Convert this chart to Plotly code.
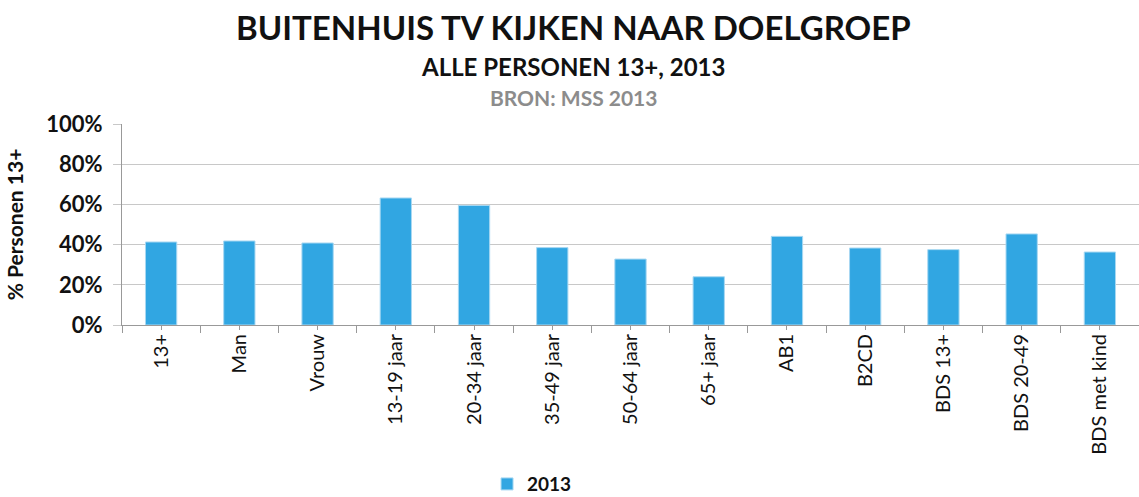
import plotly.graph_objects as go

CATEGORIEEN = ["13+", "Man", "Vrouw", "13-19 jaar", "20-34 jaar", "35-49 jaar", "50-64 jaar",
               "65+ jaar", "AB1", "B2CD", "BDS 13+", "BDS 20-49", "BDS met kind"]
WAARDEN_2013 = [0.413, 0.418, 0.408, 0.632, 0.595, 0.385, 0.328, 0.240, 0.441, 0.383, 0.375, 0.453, 0.363]
Y_TICKS = [0, 0.2, 0.4, 0.6, 0.8, 1.0]

COR_BAR = "#31A6E2"
FONT = "Lato, sans-serif"

fig = go.Figure()
fig.add_trace(go.Bar(
    name="2013", x=CATEGORIEEN, y=WAARDEN_2013,
    marker=dict(color=COR_BAR, line=dict(color="#a8d8f2", width=1)),
))
# lege trace voor de korte streepjes onder de labels
fig.add_trace(go.Scatter(x=CATEGORIEEN, y=[None] * len(CATEGORIEEN), xaxis="x2", mode="lines",
                         showlegend=False, hoverinfo="skip"))

x_range = [-0.5, len(CATEGORIEEN) - 0.5]

fig.update_layout(
    width=1139, height=497,
    paper_bgcolor="white", plot_bgcolor="white",
    margin=dict(t=124, b=172, l=122, r=0, autoexpand=False),
    bargap=0.6,
    font=dict(family=FONT, size=18, color="#111"),
    showlegend=True,
    legend=dict(orientation="h", xref="container", yref="container",
                x=0.4276, xanchor="left", y=0.026, yanchor="middle",
                font=dict(size=19, weight="bold")),
    xaxis=dict(
        range=x_range,
        tickangle=-90, ticks="outside", tickson="boundaries", ticklen=7, tickcolor="#999",
        showline=True, linecolor="#999", linewidth=1,
        tickfont=dict(size=20), showgrid=False, automargin=False,
    ),
    xaxis2=dict(
        range=x_range, overlaying="x", side="bottom", anchor="y",
        ticks="outside", tickson="labels", ticklen=4, tickcolor="#999",
        showticklabels=False, showgrid=False, showline=False, automargin=False,
    ),
    yaxis=dict(
        range=[0, 1], tickvals=Y_TICKS, tickformat=".0%",
        showgrid=True, gridcolor="#c8c8c8", gridwidth=1,
        ticks="outside", ticklen=8, tickcolor="#c8c8c8", ticklabelstandoff=6,
        showline=True, linecolor="#999",
        tickfont=dict(size=22, weight="bold"),
        title=dict(text="% Personen 13+", font=dict(size=21, weight="bold"), standoff=16),
        zeroline=False, automargin=False,
    ),
    annotations=[
        dict(text="BUITENHUIS TV KIJKEN NAAR DOELGROEP", x=0.444, y=27, xref="paper", yref="paper",
             showarrow=False, font=dict(size=33, weight="bold")),
        dict(text="ALLE PERSONEN 13+, 2013", x=0.443, y=66, xref="paper", yref="paper",
             showarrow=False, font=dict(size=24, weight="bold")),
        dict(text="BRON: MSS 2013", x=0.444, y=97, xref="paper", yref="paper",
             showarrow=False, font=dict(size=21, weight="bold", color="#8c8c8c")),
    ],
)

# plaats de titels in pixels vanaf de bovenkant
for ann in fig.layout.annotations:
    ann.y = 1 + (124 - ann.y) / (497 - 124 - 172)
    ann.yanchor = "middle"

fig.write_html("out.html", config={"displayModeBar": False},
               post_script="document.body.style.margin='0';")
